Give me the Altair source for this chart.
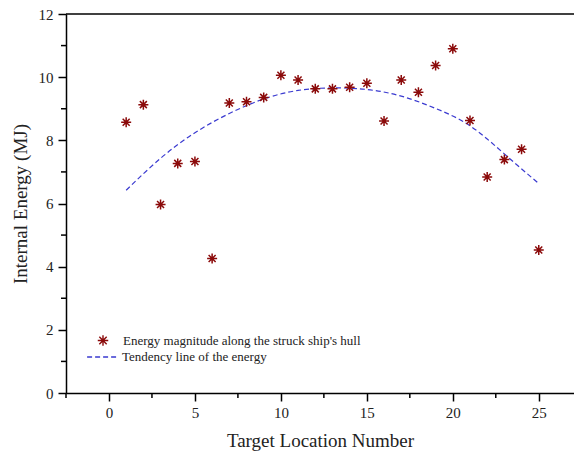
import altair as alt
import pandas as pd

# ---- data ----
location = list(range(1, 26))
energy = [8.57, 9.13, 5.97, 7.27, 7.33, 4.26, 9.18, 9.22, 9.36, 10.06,
          9.91, 9.63, 9.63, 9.68, 9.81, 8.61, 9.91, 9.52, 10.37, 10.90,
          8.63, 6.84, 7.39, 7.72, 4.53]
trend_loc = [1, 3, 5, 7, 9, 11, 13, 15, 17, 19, 21, 23, 25]
trend_energy = [6.42, 7.43, 8.24, 8.85, 9.31, 9.58, 9.66, 9.61, 9.40, 9.01,
                8.46, 7.57, 6.63]
x_major = [0, 5, 10, 15, 20, 25]
x_minor = [-2.5, 2.5, 7.5, 12.5, 17.5, 22.5]
y_major = [0, 2, 4, 6, 8, 10, 12]
y_minor = [1, 3, 5, 7, 9, 11]
series_names = ["Energy magnitude along the struck ship's hull",
                "Tendency line of the energy"]
colors = ["#8b0a0a", "#3a3ad0"]

W, H = 508, 379
FONT = "Liberation Serif"
TXT = "#222222"

pts = pd.DataFrame({"loc": location, "energy": energy, "series": series_names[0]})
trend = pd.DataFrame({"loc": trend_loc, "energy": trend_energy, "series": series_names[1]})
xmin_df = pd.DataFrame({"loc": x_minor})
ymin_df = pd.DataFrame({"energy": y_minor})

xscale = alt.Scale(domain=[-2.5, 27.05], nice=False, zero=False)
yscale = alt.Scale(domain=[0, 12], nice=False)

STAR = "M0,-1L0,1M-1,0L1,0M-0.7,-0.7L0.7,0.7M-0.7,0.7L0.7,-0.7"
LLINE = "M-2.2,0L2.2,0"

xaxis = alt.Axis(values=x_major, tickSize=8, tickWidth=1.5, tickColor="black",
                 domainWidth=1.5, domainColor="black", grid=False,
                 labelFont=FONT, labelFontSize=15, labelPadding=4, labelColor=TXT,
                 title="Target Location Number", titleFont=FONT, titleFontSize=19,
                 titleFontWeight="normal", titlePadding=11, titleColor=TXT)
yaxis = alt.Axis(values=y_major, tickSize=8, tickWidth=1.5, tickColor="black",
                 domainWidth=1.5, domainColor="black", grid=False,
                 labelFont=FONT, labelFontSize=15, labelPadding=5, labelColor=TXT,
                 title="Internal Energy (MJ)", titleFont=FONT, titleFontSize=19,
                 titleFontWeight="normal", titlePadding=8, titleColor=TXT)

X = alt.X("loc:Q", scale=xscale, axis=xaxis, title="Target Location Number")
Y = alt.Y("energy:Q", scale=yscale, axis=yaxis, title="Internal Energy (MJ)")

line = alt.Chart(trend).mark_line(
    strokeWidth=1.2, interpolate="natural", color=colors[1]
).encode(
    x=X, y=Y,
    strokeDash=alt.StrokeDash(
        "series:N",
        scale=alt.Scale(domain=[series_names[1]], range=[[5, 3]]),
        legend=alt.Legend(title=None, orient="none", legendX=28.5, legendY=335,
                          padding=0, symbolType=LLINE, symbolSize=196,
                          symbolStrokeColor=colors[1], symbolStrokeWidth=1.3,
                          labelOffset=11.5, labelFont=FONT, labelFontSize=13,
                          labelColor=TXT, labelLimit=500),
    ),
)

points = alt.Chart(pts).mark_point(
    size=100, filled=False, strokeWidth=1.5, opacity=1, color=colors[0]
).encode(
    x=X, y=Y,
    shape=alt.Shape(
        "series:N",
        scale=alt.Scale(domain=[series_names[0]], range=[STAR]),
        legend=alt.Legend(title=None, orient="none", legendX=30.5, legendY=320,
                          padding=0, symbolSize=110,
                          symbolStrokeColor=colors[0], symbolStrokeWidth=1.4,
                          symbolFillColor="transparent",
                          labelOffset=13.5, labelFont=FONT, labelFontSize=13,
                          labelColor=TXT, labelLimit=500),
    ),
)

x_minor_ticks = alt.Chart(xmin_df).mark_rule(color="black", strokeWidth=1.5).encode(
    x=X, y=alt.value(H), y2=alt.value(H + 5),
)
y_minor_ticks = alt.Chart(ymin_df).mark_rule(color="black", strokeWidth=1.5).encode(
    y=Y, x=alt.value(-5), x2=alt.value(0),
)
top_line = alt.Chart(pd.DataFrame({"a": [0]})).mark_rule(
    color="black", strokeWidth=1.5
).encode(x=alt.value(0), x2=alt.value(W), y=alt.value(0))

chart = alt.layer(line, points, x_minor_ticks, y_minor_ticks, top_line).properties(
    width=W, height=H,
    autosize=alt.AutoSizeParams(type="none"),
    padding={"left": 66, "top": 14, "right": 0, "bottom": 60},
    background="white",
).configure_view(stroke=None)

chart.save("out.html", embed_options={"renderer": "svg", "actions": False})
